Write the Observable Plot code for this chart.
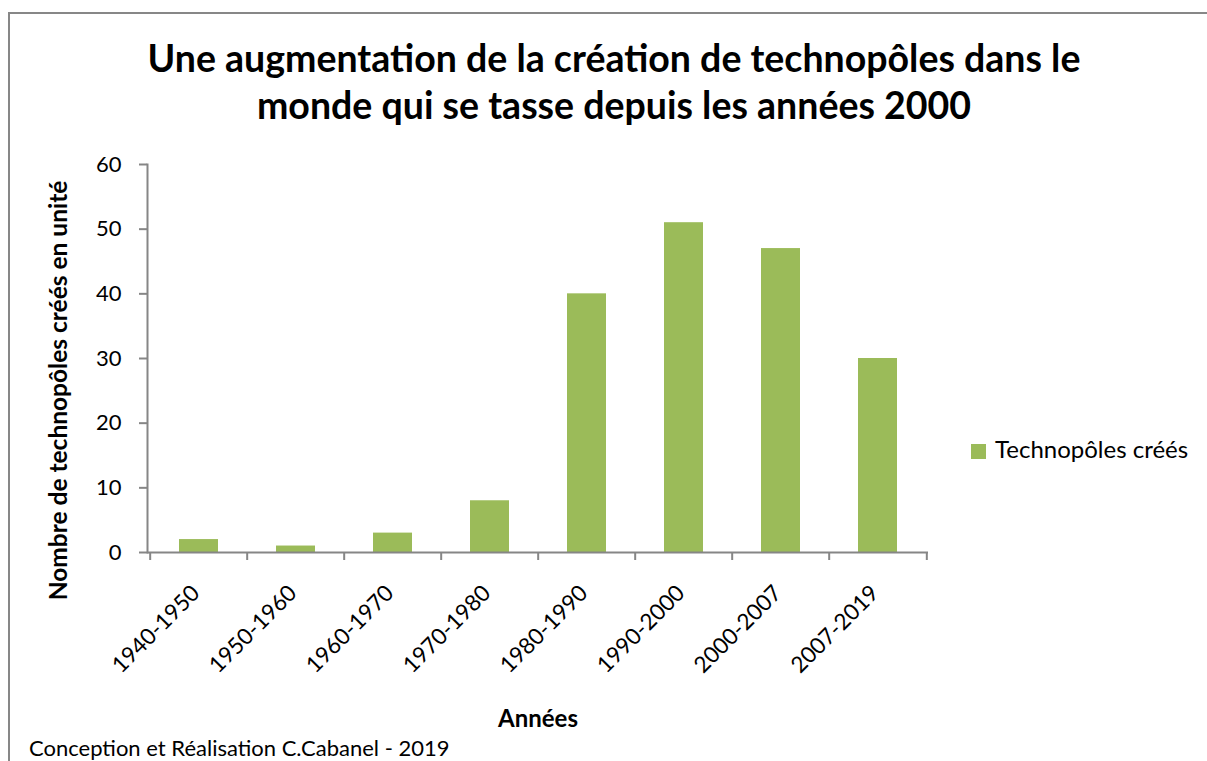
<!DOCTYPE html>
<html><head><meta charset="utf-8">
<script src="https://cdn.jsdelivr.net/npm/d3@7"></script>
<script src="https://cdn.jsdelivr.net/npm/@observablehq/plot@0.6"></script>
<style>
body{margin:0;background:#fff;overflow:hidden}
#wrap{position:relative;width:1207px;height:761px;font-family:Lato,sans-serif;color:#000;overflow:hidden}
#border{position:absolute;left:8px;top:12px;width:1250px;height:800px;border-top:2px solid #878787;border-left:2px solid #878787;box-sizing:border-box}
#chart{position:absolute;left:0;top:0}
#title{position:absolute;left:0;width:1228px;top:34px;text-align:center;font-weight:700;font-size:37.5px;line-height:47px;white-space:nowrap}
#legend-sw{position:absolute;left:971px;top:444px;width:15px;height:15px;background:#9BBB59}
#legend-tx{position:absolute;left:995px;top:437px;font-size:24px;line-height:24px;white-space:nowrap}
#caption{position:absolute;left:29px;top:737px;font-size:22px;line-height:22px;white-space:nowrap}
</style></head>
<body>
<div id="wrap">
  <div id="border"></div>
  <div id="chart"></div>
  <div id="title">Une augmentation de la création de technopôles dans le<br>monde qui se tasse depuis les années 2000</div>
  <div id="legend-sw"></div><div id="legend-tx">Technopôles créés</div>
  <div id="caption">Conception et Réalisation C.Cabanel - 2019</div>
</div>
<script>
const categories = ["1940-1950","1950-1960","1960-1970","1970-1980","1980-1990","1990-2000","2000-2007","2007-2019"];
const values = [2, 1, 3, 8, 40, 51, 47, 30];
const yTicks = [0, 10, 20, 30, 40, 50, 60];
const seriesName = "Technopôles créés";
const xLabel = "Années";
const yLabel = "Nombre de technopôles créés en unité";

const data = categories.map((c, i) => ({cat: c, value: values[i]}));

const W = 1207, H = 761;
const mL = 147, mR = 279, mT = 164, mB = 209;
const step = (W - mL - mR) / categories.length;
const axisColor = "#868686";
const green = "#9BBB59";

const chart = Plot.plot({
  width: W, height: H,
  marginLeft: mL, marginRight: mR, marginTop: mT, marginBottom: mB,
  style: {fontFamily: "Lato, sans-serif", fontSize: "22px", color: "#000", background: "transparent"},
  x: {domain: categories, paddingInner: 0.6, paddingOuter: 0.3, axis: null},
  y: {domain: [0, 60], axis: null},
  marks: [
    Plot.barY(data, {x: "cat", y: "value", fill: green}),
    Plot.ruleY([0], {stroke: axisColor, strokeWidth: 2}),
    Plot.frame({anchor: "left", stroke: axisColor, strokeWidth: 2}),
    Plot.axisY({ticks: yTicks, tickSize: 8, tickPadding: 18, stroke: axisColor, strokeWidth: 2, label: null, fontSize: 22, fill: "#000"}),
    Plot.axisX(categories, {tickSize: 8, dx: -step / 2, text: null, stroke: axisColor, strokeWidth: 2, label: null}),
    Plot.axisX([categories[categories.length - 1]], {tickSize: 8, dx: step / 2, text: null, stroke: axisColor, strokeWidth: 2, label: null}),
    Plot.text(categories, {x: d => d, frameAnchor: "bottom", dx: -3, dy: 37, rotate: -45, textAnchor: "end", lineAnchor: "middle", fontSize: 22.5, fill: "#000"}),
    Plot.text([xLabel], {frameAnchor: "bottom", dy: 167, textAnchor: "middle", lineAnchor: "middle", fontWeight: "bold", fontSize: 24, fill: "#000"}),
    Plot.text([yLabel], {frameAnchor: "left", dx: -88, dy: 32, rotate: -90, textAnchor: "middle", lineAnchor: "middle", fontWeight: "bold", fontSize: 24.5, fill: "#000"})
  ]
});
document.getElementById("chart").appendChild(chart);
</script>
</body></html>
